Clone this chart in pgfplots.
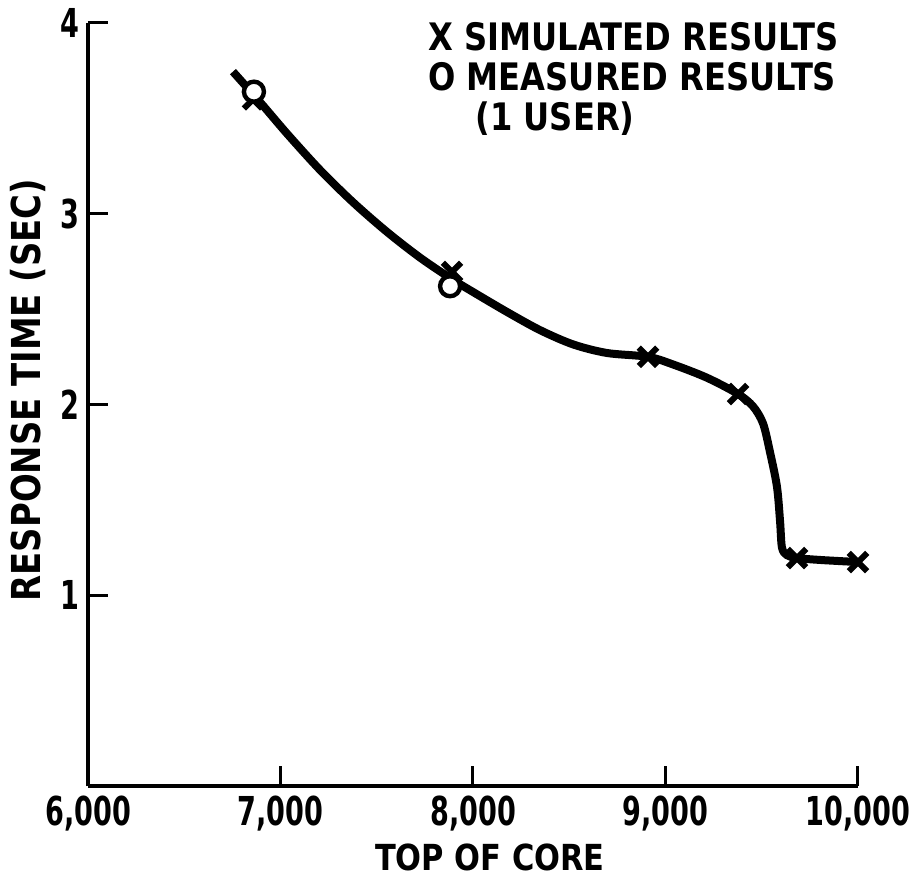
\documentclass[border=0pt]{standalone}
\usepackage{fontspec}
\setmainfont{DejaVu Sans}
\newfontfamily\lbl{DejaVu Sans}[FakeStretch=0.85]
\newfontfamily\num{DejaVu Sans}[FakeStretch=0.68]
\usepackage{pgfplots}
\pgfplotsset{compat=1.18}

\begin{document}
\begin{tikzpicture}
% fixed page: 912x877 px at 0.5bp per px, axis corner at px (88,786)
\path[use as bounding box] (-44bp,-45.5bp) rectangle (412bp,393bp);
\begin{axis}[
    at={(0,0)}, anchor=south west,
    scale only axis, width=385bp, height=381.5bp,
    xmin=6000, xmax=10000, ymin=0, ymax=4,
    axis lines=left, axis line style={-, line width=2bp},
    scaled x ticks=false,
    xtick={6000,7000,8000,9000,10000},
    xticklabels={{6,000},{7,000},{8,000},{9,000},{10,000}},
    ytick={1,2,3,4},
    yticklabels={1,2,3,4},
    tick align=inside, major tick length=10bp,
    tick style={line width=1.5bp, black},
    xticklabel style={font=\num\bfseries\fontsize{20}{20}\selectfont, anchor=north, inner sep=0pt, yshift=-5bp},
    yticklabel style={font=\num\bfseries\fontsize{20}{20}\selectfont, anchor=east, inner sep=0pt, xshift=-4bp},
    clip=false,
]
% curve
\addplot[line width=4bp, smooth, tension=0.5] coordinates {
    (6753,3.745) (6894,3.585) (7034,3.42) (7205,3.23) (7377,3.06)
    (7553,2.905) (7725,2.77) (7886,2.66) (8000,2.59) (8177,2.485)
    (8348,2.39) (8520,2.315) (8696,2.27) (8909,2.25) (9039,2.21)
    (9216,2.14) (9377,2.055) (9455,1.99) (9507,1.90) (9543,1.75)
    (9579,1.57) (9595,1.39) (9605,1.25) (9631,1.21) (9683,1.195)
    (9803,1.185) (10000,1.174)
};
% simulated results
\addplot[only marks, mark=x, mark size=6.5bp, mark options={line width=3bp, black}] coordinates {
    (6857,3.60) (7891,2.695) (8909,2.25) (9377,2.055) (9683,1.195) (10000,1.174)
};
% measured results
\addplot[only marks, mark=*, mark size=5bp, mark options={line width=2.2bp, draw=black, fill=white}] coordinates {
    (6862,3.64) (7881,2.62)
};
% legend
\node[anchor=base west, inner sep=0pt, font=\lbl\bfseries\fontsize{19}{19}\selectfont] at (axis cs:7766,3.855) {X SIMULATED RESULTS};
\node[anchor=base west, inner sep=0pt, font=\lbl\bfseries\fontsize{19}{19}\selectfont] at (axis cs:7766,3.645) {O MEASURED RESULTS};
\node[anchor=base, inner sep=0pt, font=\lbl\bfseries\fontsize{19}{19}\selectfont] at (axis cs:8426,3.435) {(1 USER)};
% axis titles
\node[inner sep=0pt, font=\lbl\bfseries\fontsize{18}{18}\selectfont] at (axis cs:8088,-0.377) {TOP OF CORE};
\node[inner sep=0pt, rotate=90, font=\lbl\bfseries\fontsize{20}{20}\selectfont] at (axis cs:5688,2.076) {RESPONSE TIME (SEC)};
\end{axis}
\end{tikzpicture}
\end{document}
